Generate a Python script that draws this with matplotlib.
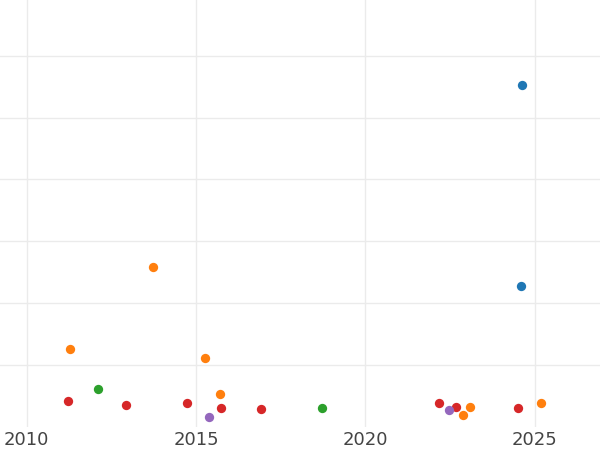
import matplotlib
matplotlib.use('Agg')
import matplotlib.pyplot as plt

# points by group (year, value)
blue_x = [2024.62, 2024.59]
blue_y = [55.2, 22.8]
orange_x = [2013.73, 2011.28, 2015.27, 2015.71, 2022.87, 2023.08, 2025.18]
orange_y = [25.8, 12.6, 11.1, 5.4, 2.0, 3.3, 3.9]
green_x = [2012.11, 2018.73]
green_y = [6.2, 3.1]
red_x = [2011.21, 2012.94, 2014.73, 2015.74, 2016.92, 2022.18, 2022.67, 2024.51]
red_y = [4.2, 3.5, 3.9, 3.1, 2.9, 3.9, 3.2, 3.0]
purple_x = [2015.37, 2022.48]
purple_y = [1.6, 2.7]

xticks = [2010, 2015, 2020, 2025]
yticks = [10, 20, 30, 40, 50, 60]

fig = plt.figure(figsize=(6, 4.5), dpi=100)
ax = fig.add_axes([0, 23 / 450, 1, 427 / 450])

groups = [
    (blue_x, blue_y, '#1f77b4'),
    (orange_x, orange_y, '#ff7f0e'),
    (green_x, green_y, '#2ca02c'),
    (red_x, red_y, '#d62728'),
    (purple_x, purple_y, '#9467bd'),
]
for gx, gy, c in groups:
    ax.scatter(gx, gy, s=45, color=c, linewidths=0, zorder=3)

ax.set_xlim(2009.21, 2026.93)
ax.set_ylim(0, 69.0)
ax.set_xticks(xticks)
ax.set_xticklabels([str(t) for t in xticks])
ax.set_yticks(yticks)
ax.set_yticklabels([])
ax.tick_params(axis='both', length=0)
ax.tick_params(axis='x', pad=3, labelsize=13, labelcolor='#444444')
ax.grid(True, color='#ebebeb', linewidth=1.0)
ax.set_axisbelow(True)
for s in ax.spines.values():
    s.set_visible(False)

fig.savefig('out.png', dpi=100)
